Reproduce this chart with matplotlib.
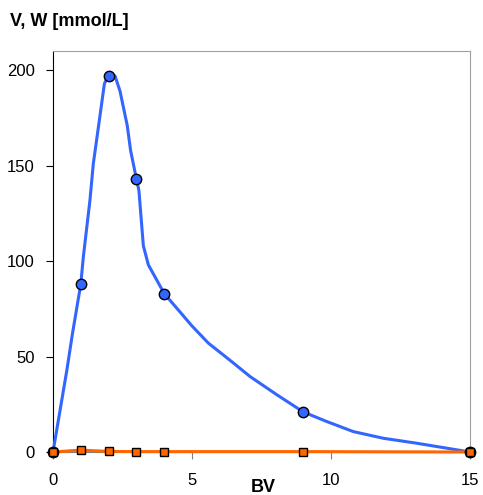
import matplotlib
matplotlib.use("Agg")
import matplotlib.pyplot as plt
import numpy as np

plt.rcParams['font.family'] = ['Liberation Sans', 'DejaVu Sans']

# Measured points (markers)
bv_pts = [0, 1, 2, 3, 4, 9, 15]
v_pts = [0, 88, 197, 143, 83, 21, 0]
w_pts = [0, 1.0, 0.3, 0.2, 0.2, 0.2, 0]

# Dense curve for V
bv_line = [0, 0.5, 0.7, 1.0, 1.09, 1.33, 1.45, 1.67, 1.85, 2.0, 2.23, 2.41, 2.67,
           2.79, 3.0, 3.09, 3.25, 3.43, 4.0, 5.0, 5.59, 6.37, 7.09, 8.05, 9.0,
           9.84, 10.8, 11.88, 13.08, 14.04, 15]
v_line = [0, 43, 62, 88, 102, 132, 151, 174, 193, 197, 197, 189, 171,
          158, 143, 137, 108, 98, 83, 66, 57, 48, 39.5, 30, 21,
          16, 10.7, 7.2, 4.6, 2.3, 0]

fig = plt.figure(figsize=(4.83, 4.95), dpi=100)
ax = fig.add_axes([53/483, 1-452/495, (470-53)/483, (452-51)/495])

blue = '#3366FF'
orange = '#FF6600'

ax.plot(bv_line, v_line, color=blue, lw=2.2, zorder=3, clip_on=False)
ax.plot(bv_pts, w_pts, color=orange, lw=2.2, zorder=4, clip_on=False)
ax.plot(bv_pts, v_pts, ls='none', marker='o', ms=7.5, mfc=blue, mec='black', mew=1.0,
        zorder=5, clip_on=False)
ax.plot(bv_pts, w_pts, ls='none', marker='s', ms=5.5, mfc=orange, mec='black', mew=1.0,
        zorder=6, clip_on=False)

ax.set_xlim(0, 15)
ax.set_ylim(0, 210)
ax.set_xticks([0, 5, 10, 15])
ax.set_yticks([0, 50, 100, 150, 200])

for s in ['top', 'right']:
    ax.spines[s].set_color('#A0A0A0')
ax.spines['bottom'].set_color('#808080')
ax.spines['left'].set_color('black')

ax.tick_params(axis='x', direction='out', length=5, pad=10, labelsize=12, color='#808080')
ax.tick_params(axis='y', direction='out', length=5, pad=8, labelsize=12, color='black')

fig.text(10/483, 1-21/495, 'V, W [mmol/L]', fontsize=13, fontweight='bold',
         ha='left', va='center')
fig.text(263/483, 1-487/495, 'BV', fontsize=13, fontweight='bold',
         ha='center', va='center')

fig.savefig('out.png', dpi=100)
